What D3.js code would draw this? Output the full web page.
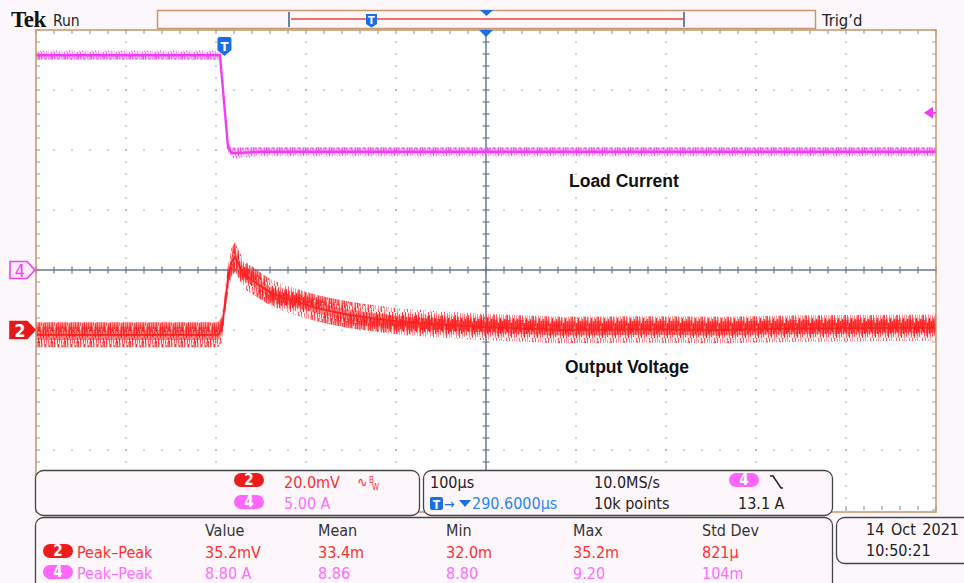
<!DOCTYPE html>
<html>
<head>
<meta charset="utf-8">
<title>Tek Run - Load Current / Output Voltage</title>
<script src="https://d3js.org/d3.v7.min.js"></script>
<style>
  body { margin: 0; background: #fcf7fb; }
  svg { display: block; }
</style>
</head>
<body>
<div id="scope"></div>
<script>
// ---- values ----
const timeBase = [100, 290.6];          // µs/div, trigger -> centre delay (µs)
const chScale = [20, 5];                // ch2 mV/div, ch4 A/div
const chPos = [-1, 0];                  // ch2 / ch4 offset in divisions
const trigLevel = 13.1;                 // A on ch4

// ch2 : output voltage (mV, AC), centre of the noise band
const ch2Time = [-209.4, -116, -7.2, -3.1, 0.6, 4.2, 8.0, 11.7, 15.3, 19.1, 24.7, 35.8, 46.9, 65, 83.9, 102.4, 120.6, 139.4, 158, 194.4, 231.7, 269.2, 298.3, 372.8, 472.8, 550.6, 639.4, 790.6];
const ch2Mv   = [-1.6, -1.6, -1.6, 0, 9.0, 17.8, 22.8, 24.4, 22.2, 20.0, 17.8, 15.6, 13.3, 10.7, 9.0, 7.3, 6.1, 5.0, 4.2, 2.8, 2.0, 1.3, 0.9, 0.0, 0.2, 0.0, 0.5, 0.8];
const ch2Noise = [3.8, 3.8, 3.8, 3.8, 3.9, 4.1, 4.3, 4.4, 4.2, 4.1, 4.1, 4.1, 4.0, 4.0, 4.0, 4.0, 4.0, 4.0, 4.0, 4.0, 4.0, 4.0, 4.0, 4.0, 4.0, 4.0, 4.0, 4.0];

// ch4 : load current (A)
const ch4Time = [-209.4, -5, 4, 8, 15, 40, 790.6];
const ch4Amp  = [17.9, 17.9, 10.2, 9.75, 9.75, 9.85, 9.85];
const ch4Noise = [0.32, 0.32, 0.32, 0.38, 0.38, 0.32, 0.32];

const measHeads = ["Value", "Mean", "Min", "Max", "Std Dev"];
const measCh2 = ["35.2mV", "33.4m", "32.0m", "35.2m", "821µ"];
const measCh4 = ["8.80 A", "8.86", "8.80", "9.20", "104m"];

// ---- layout ----
const W = 964, H = 583;
const L = 36, R = 936, T = 30, B = 510;
const font = "'DejaVu Sans Condensed', 'Liberation Sans Narrow', sans-serif";
const red = "#ff2020", redTxt = "#ff3030", mag = "#f23cf2", magTxt = "#ff6cff";
const blue = "#1a6ee6", tan = "#c4986c", grid = "#98a0b8", axis = "#6c7896";

const svg = d3.select("#scope").append("svg")
  .attr("width", W).attr("height", H)
  .style("font-family", font);

svg.append("rect").attr("width", W).attr("height", H).attr("fill", "#fcf7fb");

// scales
const gx = d3.scaleLinear().domain([0, 10]).range([L, R]);
const gy = d3.scaleLinear().domain([0, 8]).range([T, B]);
const tStart = timeBase[1] - 5 * timeBase[0];
const x = d3.scaleLinear().domain([tStart, tStart + 10 * timeBase[0]]).range([L, R]);
const y2 = d3.scaleLinear()
  .domain([(-4 - chPos[0]) * chScale[0], (4 - chPos[0]) * chScale[0]]).range([B, T]);
const y4 = d3.scaleLinear()
  .domain([(-4 - chPos[1]) * chScale[1], (4 - chPos[1]) * chScale[1]]).range([B, T]);

// ---- top strip ----
svg.append("text").attr("x", 11).attr("y", 27)
  .style("font-family", "'Liberation Serif', serif").style("font-weight", "bold")
  .style("font-size", "23px").style("letter-spacing", "-0.5px").attr("fill", "#111").text("Tek");
svg.append("text").attr("x", 53).attr("y", 26).style("font-size", "15.5px").attr("fill", "#222").text("Run");
svg.append("text").attr("x", 822).attr("y", 26).style("font-size", "16.5px").attr("fill", "#222").text("Trig’d");

svg.append("rect").attr("x", 157.5).attr("y", 10.5).attr("width", 658).attr("height", 18)
  .attr("fill", "#fdf7fc").attr("stroke", tan).attr("stroke-width", 1.5);
svg.append("line").attr("x1", 291).attr("x2", 683).attr("y1", 19).attr("y2", 19)
  .attr("stroke", "#f07070").attr("stroke-width", 2);
[289, 684].forEach(bx => {
  svg.append("line").attr("x1", bx).attr("x2", bx).attr("y1", 12).attr("y2", 27)
    .attr("stroke", "#7080a0").attr("stroke-width", 2);
});
svg.append("path").attr("d", "M480,10 L493,10 L486.5,16 Z").attr("fill", blue);
// small T in record bar
svg.append("path").attr("d", "M366,14 h11 v10 l-5.5,3.5 l-5.5,-3.5 Z").attr("fill", blue);
svg.append("text").attr("x", 371.5).attr("y", 24).attr("text-anchor", "middle")
  .style("font-size", "11px").style("font-weight", "bold").attr("fill", "#fff").text("T");

// ---- graticule ----
svg.append("rect").attr("x", L).attr("y", T).attr("width", R - L).attr("height", B - T).attr("fill", "#fff");
const g = svg.append("g");
const minorX = d3.range(0, 51).map(j => j / 5);
const minorY = d3.range(0, 41).map(j => j / 5);
[1, 2, 3, 4, 6, 7, 8, 9].forEach(k => {
  g.selectAll(null).data(minorY).enter().append("rect")
    .attr("x", gx(k) - 0.75).attr("y", d => gy(d) - 0.5).attr("width", 1.5).attr("height", 1.2).attr("fill", grid);
});
[1, 2, 3, 5, 6, 7].forEach(k => {
  g.selectAll(null).data(minorX).enter().append("rect")
    .attr("x", d => gx(d) - 0.75).attr("y", gy(k) - 0.5).attr("width", 1.5).attr("height", 1.2).attr("fill", grid);
});
// border ticks
g.selectAll(null).data(minorY).enter().append("path")
  .attr("d", d => `M${L},${gy(d)}h4M${R},${gy(d)}h-4`).attr("stroke", grid).attr("stroke-width", 1.2);
g.selectAll(null).data(minorX).enter().append("path")
  .attr("d", d => `M${gx(d)},${T}v4M${gx(d)},${B}v-4`).attr("stroke", grid).attr("stroke-width", 1.2);
// centre crosshair
g.append("line").attr("x1", gx(5)).attr("x2", gx(5)).attr("y1", T).attr("y2", B).attr("stroke", axis).attr("stroke-width", 1.5);
g.append("line").attr("x1", L).attr("x2", R).attr("y1", gy(4)).attr("y2", gy(4)).attr("stroke", axis).attr("stroke-width", 1.5);
g.selectAll(null).data(minorY).enter().append("line")
  .attr("x1", gx(5) - 3.5).attr("x2", gx(5) + 3.5).attr("y1", d => gy(d)).attr("y2", d => gy(d))
  .attr("stroke", axis).attr("stroke-width", 1.2);
g.selectAll(null).data(minorX).enter().append("line")
  .attr("y1", gy(4) - 3.5).attr("y2", gy(4) + 3.5).attr("x1", d => gx(d)).attr("x2", d => gx(d))
  .attr("stroke", axis).attr("stroke-width", 1.2);

// ---- traces ----
svg.append("clipPath").attr("id", "plotClip").append("rect")
  .attr("x", L).attr("y", T).attr("width", R - L).attr("height", B - T);
const tr = svg.append("g").attr("clip-path", "url(#plotClip)");

// noise texture: irregular vertical hairlines (pure styling)
const defs = svg.append("defs");
const hairs = [[0, 3, 20, 0.9], [1, 8, 26, 0.5], [2, 0, 14, 0.8], [3, 5, 24, 0.4], [4, 11, 26, 0.9],
               [5, 1, 18, 0.6], [6, 6, 22, 1.0], [7, 0, 26, 0.45], [8, 9, 20, 0.8], [9, 2, 25, 0.55],
               [10, 7, 17, 0.9], [11, 4, 23, 0.5], [12, 0, 19, 0.75]];
function hatch(id, rgb) {
  const p = defs.append("pattern").attr("id", id).attr("patternUnits", "userSpaceOnUse")
    .attr("width", 13).attr("height", 26);
  hairs.forEach(([px, a, b, o]) => {
    p.append("line").attr("x1", px + 0.5).attr("x2", px + 0.5).attr("y1", a).attr("y2", b)
      .attr("stroke", `rgba(${rgb},${o})`).attr("stroke-width", 0.9);
  });
}
hatch("hatchRed", "255,30,30");
hatch("hatchMag", "240,60,240");

function band(times, vals, noise, ys, k) {
  return d3.area()
    .x((d, i) => x(times[i]))
    .y0((d, i) => ys(vals[i] - noise[i] * k))
    .y1((d, i) => ys(vals[i] + noise[i] * k))(times);
}
function centre(times, vals, ys) {
  return d3.line().x((d, i) => x(times[i])).y((d, i) => ys(vals[i]))(times);
}

// ch4 load current
tr.append("path").attr("d", band(ch4Time, ch4Amp, ch4Noise, y4, 1)).attr("fill", "rgba(255,140,255,0.4)");
tr.append("path").attr("d", band(ch4Time, ch4Amp, ch4Noise, y4, 1.2)).attr("fill", "url(#hatchMag)");
tr.append("path").attr("d", centre(ch4Time, ch4Amp, y4)).attr("fill", "none")
  .attr("stroke", mag).attr("stroke-width", 2.4);

// ch2 output voltage
tr.append("path").attr("d", band(ch2Time, ch2Mv, ch2Noise, y2, 0.85)).attr("fill", "rgba(255,130,130,0.25)");
tr.append("path").attr("d", band(ch2Time, ch2Mv, ch2Noise, y2, 1.1)).attr("fill", "url(#hatchRed)");
tr.append("path").attr("d", band(ch2Time, ch2Mv, ch2Noise, y2, 0.7)).attr("fill", "url(#hatchRed)");
tr.append("path").attr("d", band(ch2Time, ch2Mv, ch2Noise, y2, 0.45)).attr("fill", "rgba(255,30,30,0.5)");
tr.append("path").attr("d", centre(ch2Time, ch2Mv, y2)).attr("fill", "none")
  .attr("stroke", red).attr("stroke-width", 1.8);

// plot frame
svg.append("rect").attr("x", L).attr("y", T).attr("width", R - L).attr("height", B - T + 2)
  .attr("fill", "none").attr("stroke", tan).attr("stroke-width", 1.5);

// trigger markers
const tx = x(0);
svg.append("path").attr("d", `M${tx - 7},39 q0,-2 2,-2 h10 q2,0 2,2 v11 l-7,6 l-7,-6 Z`).attr("fill", blue);
svg.append("text").attr("x", tx).attr("y", 51).attr("text-anchor", "middle")
  .style("font-size", "13px").style("font-weight", "bold").attr("fill", "#fff").text("T");
svg.append("path").attr("d", `M${gx(5) - 7},${T} h14 l-7,7 Z`).attr("fill", blue);
const ty = y4(trigLevel);
svg.append("path").attr("d", `M${R - 12},${ty} l9,-6 v12 Z`).attr("fill", mag);
svg.append("line").attr("x1", R - 4).attr("x2", R).attr("y1", ty).attr("y2", ty).attr("stroke", mag).attr("stroke-width", 1.5);

// channel ground markers
function chMarker(yc, label, filled, color) {
  svg.append("path").attr("d", `M10,${yc - 8.5} h17 l8,8.5 l-8,8.5 h-17 Z`)
    .attr("fill", filled ? color : "#ffeaff").attr("stroke", color).attr("stroke-width", 1.6);
  svg.append("text").attr("x", 20).attr("y", yc + 6.5).attr("text-anchor", "middle")
    .style("font-size", "18px").style("font-weight", filled ? "bold" : "normal")
    .attr("fill", filled ? "#fff" : color).text(label);
}
chMarker(y4(0), "4", false, "#ee44ee");
chMarker(y2(0), "2", true, "#e81818");

// annotations
[["Load Current", 569, 187], ["Output Voltage", 565, 373]].forEach(([t, ax, ay]) => {
  svg.append("text").attr("x", ax).attr("y", ay)
    .style("font-family", "'Liberation Sans', Arial, sans-serif").style("font-weight", "bold")
    .style("font-size", "17.5px").attr("fill", "#111").text(t);
});

// ---- readout boxes ----
function box(bx, by, bw, bh) {
  svg.append("rect").attr("x", bx).attr("y", by).attr("width", bw).attr("height", bh).attr("rx", 8)
    .attr("fill", "#fdf7fc").attr("stroke", "#444").attr("stroke-width", 1.3);
}
function pill(px, py, label, color) {
  svg.append("rect").attr("x", px).attr("y", py).attr("width", 30).attr("height", 14).attr("rx", 7).attr("fill", color);
  svg.append("text").attr("x", px + 15).attr("y", py + 12).attr("text-anchor", "middle")
    .style("font-size", "15px").style("font-weight", "bold").attr("fill", "#fff").text(label);
}
function txt(tx0, ty0, s, color, size) {
  return svg.append("text").attr("x", tx0).attr("y", ty0).style("font-size", (size || 16) + "px")
    .attr("fill", color).text(s);
}

box(35.5, 470.5, 384, 45);
box(423.5, 470.5, 409, 45);
box(35.5, 517.5, 797, 80);
box(836.5, 517.5, 150, 46);

// box 1 : vertical scales
pill(234, 473, "2", "#ee1c1c");
txt(284, 488, chScale[0].toFixed(1) + "mV", redTxt);
txt(357, 487, "∿", redTxt, 14);
txt(369, 483, "B", redTxt, 8);
txt(372, 490, "W", redTxt, 8);
pill(234, 495, "4", "#ff66ff");
txt(284, 509, chScale[1].toFixed(2) + " A", magTxt);

// box 2 : timebase / trigger
txt(430, 488, timeBase[0] + "µs", "#222");
txt(594, 488, "10.0MS/s", "#222");
pill(729, 473, "4", "#ff66ff");
svg.append("path").attr("d", "M770,476 h3 l8,12 h2").attr("fill", "none").attr("stroke", "#222").attr("stroke-width", 1.5);
svg.append("rect").attr("x", 430).attr("y", 497).attr("width", 13).attr("height", 13).attr("rx", 2).attr("fill", blue);
svg.append("text").attr("x", 436.5).attr("y", 508.5).attr("text-anchor", "middle")
  .style("font-size", "12px").style("font-weight", "bold").attr("fill", "#fff").text("T");
txt(444, 509, "→", blue, 14);
svg.append("path").attr("d", "M459,500 h12 l-6,7 Z").attr("fill", blue);
txt(472, 509, timeBase[1].toFixed(4) + "µs", "#2b84ee");
txt(594, 509, "10k points", "#222");
txt(738, 509, trigLevel.toFixed(1) + " A", "#222");

// box 3 : measurements
const colX = [205, 318, 446, 573, 702];
measHeads.forEach((h, i) => txt(colX[i], 536, h, "#333"));
pill(43, 544, "2", "#ee1c1c");
txt(77, 558, "Peak–Peak", redTxt);
measCh2.forEach((v, i) => txt(colX[i], 558, v, redTxt));
pill(43, 565, "4", "#ff66ff");
txt(77, 579, "Peak–Peak", magTxt);
measCh4.forEach((v, i) => txt(colX[i], 579, v, magTxt));

// box 4 : date
txt(866, 535, "14 Oct  2021", "#222").style("word-spacing", "2px");
txt(866, 556, "10:50:21", "#222");
</script>
</body>
</html>
